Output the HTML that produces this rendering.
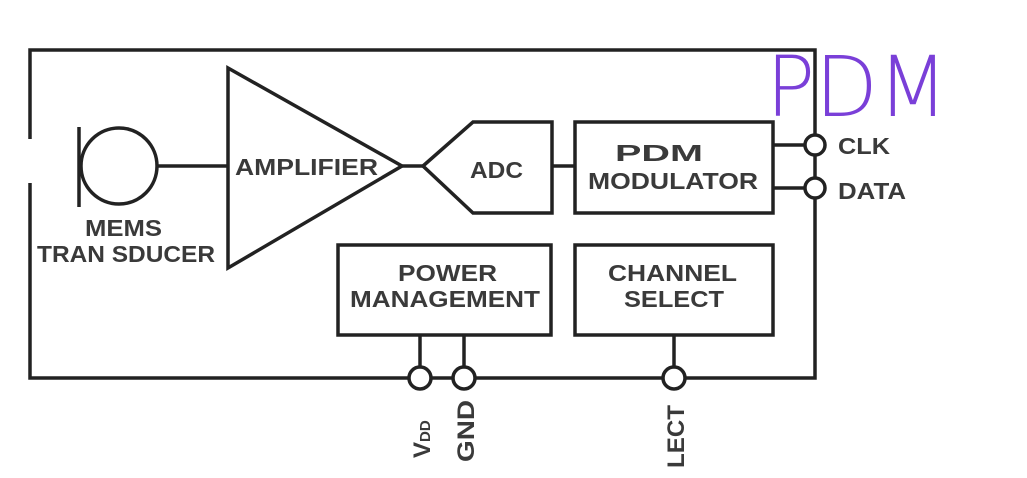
<!DOCTYPE html>
<html><head><style>
html,body{margin:0;padding:0;background:#fff;}
svg{display:block;}
text{font-family:"Liberation Sans",sans-serif;font-weight:bold;fill:#3a3a3a;}
</style></head><body>
<svg width="1027" height="478" viewBox="0 0 1027 478" xmlns="http://www.w3.org/2000/svg">
<g stroke="#222" stroke-width="3.5" fill="none">
<polyline points="30,139 30,50 815,50 815,135"/>
<line x1="815" y1="155" x2="815" y2="178"/>
<polyline points="815,198 815,378 685,378"/>
<line x1="663" y1="378" x2="475" y2="378"/>
<line x1="453" y1="378" x2="431" y2="378"/>
<polyline points="409,378 30,378 30,183"/>
<line x1="79" y1="127" x2="79" y2="207"/>
<circle cx="119" cy="166" r="38"/>
<line x1="157" y1="166" x2="228" y2="166"/>
<polygon points="228,68 402,166 228,268"/>
<line x1="402" y1="166" x2="423" y2="166"/>
<polygon points="423,166 473,122 552,122 552,213 473,213"/>
<line x1="552" y1="166" x2="575" y2="166"/>
<rect x="575" y="122" width="198" height="91"/>
<line x1="773" y1="145" x2="805" y2="145"/>
<line x1="773" y1="188" x2="805" y2="188"/>
<circle cx="815" cy="145" r="10"/>
<circle cx="815" cy="188" r="10"/>
<rect x="338" y="245" width="213" height="90"/>
<rect x="575" y="245" width="198" height="90"/>
<line x1="420" y1="335" x2="420" y2="367"/>
<line x1="464" y1="335" x2="464" y2="367"/>
<line x1="674" y1="335" x2="674" y2="367"/>
<circle cx="420" cy="378" r="11"/>
<circle cx="464" cy="378" r="11"/>
<circle cx="674" cy="378" r="11"/>
</g>
<g lengthAdjust="spacingAndGlyphs" font-size="23">
<text x="85" y="236" textLength="77" lengthAdjust="spacingAndGlyphs">MEMS</text>
<text x="37" y="262" textLength="178" lengthAdjust="spacingAndGlyphs">TRAN SDUCER</text>
<text x="235" y="175" textLength="143" lengthAdjust="spacingAndGlyphs">AMPLIFIER</text>
<text x="470" y="178" textLength="53" lengthAdjust="spacingAndGlyphs">ADC</text>
<text x="615" y="161" textLength="88" lengthAdjust="spacingAndGlyphs">PDM</text>
<text x="588" y="189" textLength="170" lengthAdjust="spacingAndGlyphs">MODULATOR</text>
<text x="398" y="281" textLength="99" lengthAdjust="spacingAndGlyphs">POWER</text>
<text x="350" y="307" textLength="190" lengthAdjust="spacingAndGlyphs">MANAGEMENT</text>
<text x="608" y="281" textLength="129" lengthAdjust="spacingAndGlyphs">CHANNEL</text>
<text x="624" y="307" textLength="100" lengthAdjust="spacingAndGlyphs">SELECT</text>
<text x="838" y="154" textLength="52" lengthAdjust="spacingAndGlyphs">CLK</text>
<text x="838" y="199" textLength="68" lengthAdjust="spacingAndGlyphs">DATA</text>
</g>
<text transform="translate(430,458) rotate(-90)" font-size="24">V<tspan font-size="15">DD</tspan></text>
<text transform="translate(474,462) rotate(-90)" font-size="24" textLength="62" lengthAdjust="spacingAndGlyphs">GND</text>
<text transform="translate(684,468) rotate(-90)" font-size="24" textLength="63" lengthAdjust="spacingAndGlyphs">LECT</text>
<text x="766" y="116" font-size="84" style="font-weight:200;fill:#7a3fd8;font-family:'DejaVu Sans','Liberation Sans',sans-serif;" textLength="182" lengthAdjust="spacingAndGlyphs">PDM</text>
</svg>
</body></html>
